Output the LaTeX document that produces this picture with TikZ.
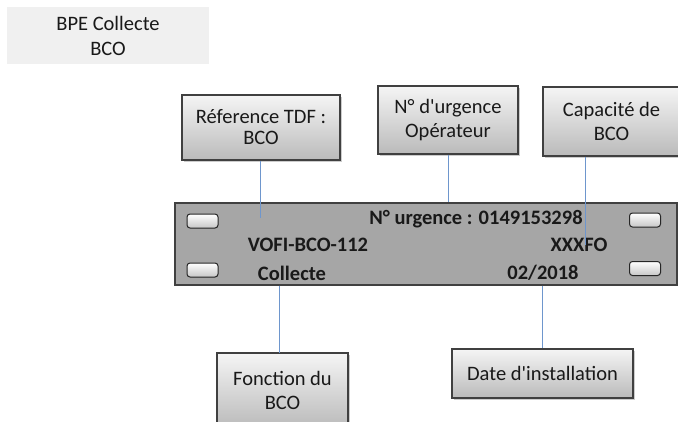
\documentclass[tikz,border=0pt]{standalone}
\usepackage{fontspec}
\setmainfont{Carlito}
\usetikzlibrary{shadows}

\begin{document}
\begin{tikzpicture}[x=1pt,y=-1pt,
  every node/.style={font=\fontsize{20.5}{24}\selectfont,text=black!90},
  box/.style={draw=black!75,line width=1.2pt,top color=black!4,bottom color=black!27,
    align=center,inner sep=0,
    drop shadow={shadow xshift=2pt,shadow yshift=-2pt,opacity=0.4}},
  btn/.style={draw=black!85,line width=1pt,rounded corners=3pt,top color=white,
    bottom color=black!22,minimum width=31pt,minimum height=14pt,inner sep=0,
    drop shadow={shadow xshift=0.5pt,shadow yshift=-0.5pt,opacity=0.4}},
  txt/.style={font=\fontsize{20.5}{24}\selectfont\bfseries},
  lnk/.style={draw={rgb,255:red,110;green,150;blue,205},line width=1pt}]
\useasboundingbox (0,0) rectangle (678,421);
% title
\node[fill=black!6,align=center,minimum width=202pt,minimum height=57pt,inner sep=0,
  font=\fontsize{20.5}{25}\selectfont] (title) at (108,35.5) {BPE Collecte\\BCO};
% boxes above the plate
\node[box,minimum width=158pt,minimum height=65pt,font=\fontsize{20.5}{21}\selectfont]
  (ref) at (261,127.5) {Réference TDF :\\BCO};
\node[box,minimum width=140pt,minimum height=68pt] (urg) at (448,120)
  {N° d\textquotesingle urgence\\Opérateur};
\node[box,minimum width=137pt,minimum height=69pt] (cap) at (611.5,121.5) {Capacité de\\BCO};
% the plate
\node[draw=black!75,line width=1.2pt,fill=black!35,minimum width=502pt,minimum height=82pt,
  inner sep=0,drop shadow={shadow xshift=1pt,shadow yshift=-1pt,opacity=0.3}] (panel) at (426,244) {};
\node[btn] (b1) at (202.5,221) {};
\node[btn] (b2) at (202.5,270) {};
\node[btn] (b3) at (645,220) {};
\node[btn] (b4) at (645,268.5) {};
\node[txt] (num) at (476,219) {N° urgence : 0149153298};
\node[txt] (vofi) at (308,245) {VOFI-BCO-112};
\node[txt] (xxx) at (579,245) {XXXFO};
\node[txt] (col) at (292,273) {Collecte};
\node[txt] (yr) at (543,273) {02/2018};
% boxes below the plate
\node[box,minimum width=131pt,minimum height=75pt] (fct) at (282.5,390.5) {Fonction du\\BCO};
\node[box,minimum width=181pt,minimum height=49pt] (date) at (542.5,373.5)
  {Date d\textquotesingle installation};
% links
\coordinate (refend) at (260,218);
\coordinate (capend) at (585,245);
\coordinate (fctend) at (279,353);
\draw[lnk] (refend |- ref.south) -- (refend);
\draw[lnk] (urg) -- (urg |- panel.north);
\draw[lnk] (capend |- cap.south) -- (capend);
\draw[lnk] (fctend |- panel.south) -- (fctend);
\draw[lnk] (date.north |- panel.south) -- (date.north);
\end{tikzpicture}
\end{document}
